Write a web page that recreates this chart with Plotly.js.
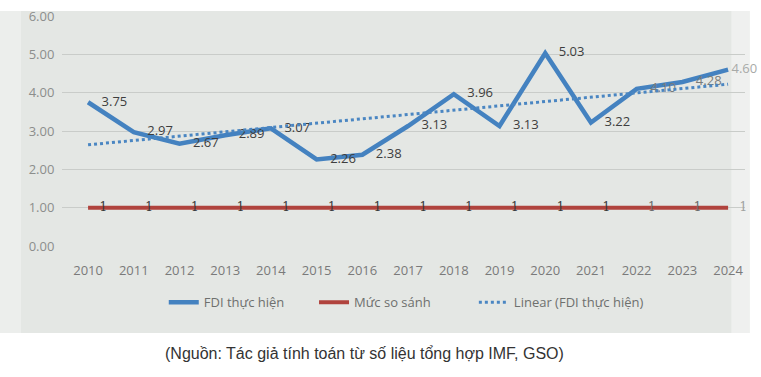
<!DOCTYPE html>
<html>
<head>
<meta charset="utf-8">
<script src="https://cdn.plot.ly/plotly-3.0.1.min.js"></script>
<style>
  html, body { margin: 0; padding: 0; background: #ffffff; }
  #chart { width: 761px; height: 377px; }
</style>
</head>
<body>
<div id="chart"></div>
<script>
// ---- data ----
const years = [2010, 2011, 2012, 2013, 2014, 2015, 2016, 2017, 2018, 2019, 2020, 2021, 2022, 2023, 2024];
const fdiValues = [3.75, 2.97, 2.67, 2.89, 3.07, 2.26, 2.38, 3.13, 3.96, 3.13, 5.03, 3.22, 4.10, 4.28, 4.60];
const baseValues = [1, 1, 1, 1, 1, 1, 1, 1, 1, 1, 1, 1, 1, 1, 1];
const trendYears = [2010, 2024];
const trendValues = [2.64, 4.22];
const yTickVals = [0, 1, 2, 3, 4, 5, 6];
const seriesNames = ['FDI thực hiện', 'Mức so sánh', 'Linear (FDI thực hiện)'];
const caption = '(Nguồn: Tác giả tính toán từ số liệu tổng hợp IMF, GSO)';

const pad = (s, n) => '\u00a0'.repeat(n) + s;
const last = years.length - 1;
// label colours fade toward the right edge like the photographed screen
const fdiLabelColors = fdiValues.map((v, i) => i >= 14 ? '#a8aaa8' : (i >= 12 ? '#7a7c7a' : '#3e3e3e'));
const baseLabelColors = baseValues.map((v, i) => i >= 14 ? '#a0a2a0' : (i >= 12 ? '#6a6a6a' : '#3a3a3a'));

const traces = [
  {
    x: years, y: fdiValues, name: seriesNames[0], type: 'scatter', mode: 'lines+text',
    line: {color: '#4482c0', width: 4.5},
    text: fdiValues.map((v, i) => pad(v.toFixed(2), i === last ? 1 : 4)), textposition: 'middle right',
    textfont: {family: 'Open Sans, DejaVu Sans, sans-serif', size: 13, color: fdiLabelColors},
    cliponaxis: false, hoverinfo: 'skip', legend: 'legend'
  },
  {
    x: years, y: baseValues, name: seriesNames[1], type: 'scatter', mode: 'lines+text',
    line: {color: '#b0433d', width: 4},
    text: baseValues.map(v => pad(String(v), 3)), textposition: 'middle right',
    textfont: {family: 'DejaVu Serif, serif', size: 12, color: baseLabelColors},
    cliponaxis: false, hoverinfo: 'skip', legend: 'legend2'
  },
  {
    x: trendYears, y: trendValues, name: seriesNames[2], type: 'scatter', mode: 'lines',
    line: {color: '#4a86c2', width: 3, dash: 'dot'},
    hoverinfo: 'skip', legend: 'legend3'
  }
];

const legendBase = {
  orientation: 'h', xanchor: 'left', y: -0.245, yanchor: 'middle',
  bgcolor: 'rgba(0,0,0,0)', font: {size: 13, color: '#6e706e'}
};

const layout = {
  width: 761, height: 377,
  margin: {l: 62, r: 16, t: 16, b: 131},
  paper_bgcolor: '#ffffff',
  plot_bgcolor: 'rgba(0,0,0,0)',
  showlegend: true,
  font: {family: 'Open Sans, DejaVu Sans, sans-serif', color: '#777'},
  xaxis: {
    type: 'linear', range: [2009.43, 2024.37],
    tickvals: years, ticktext: years.map(String),
    showgrid: false, zeroline: false, showline: false,
    ticks: 'outside', ticklen: 12, tickcolor: 'rgba(0,0,0,0)',
    tickfont: {size: 13, color: '#7a7a7a'}
  },
  yaxis: {
    range: [0, 6], tickvals: yTickVals, ticktext: yTickVals.map(v => v.toFixed(2)),
    showgrid: true, gridcolor: '#c9ccc9', gridwidth: 1,
    zeroline: false, showline: false,
    ticks: 'outside', ticklen: 4, tickcolor: 'rgba(0,0,0,0)',
    tickfont: {size: 13, color: '#8c8e8c'}
  },
  legend: Object.assign({}, legendBase, {x: 0.149}),
  legend2: Object.assign({}, legendBase, {x: 0.369}),
  legend3: Object.assign({}, legendBase, {x: 0.603}),
  shapes: [
    {type: 'rect', xref: 'paper', yref: 'paper', x0: -0.0908, x1: 1.007, y0: -0.378, y1: 1.0217,
     fillcolor: '#e4e7e4', line: {width: 0}, layer: 'below'},
    {type: 'rect', xref: 'paper', yref: 'paper', x0: -0.0908, x1: -0.06, y0: -0.378, y1: 1.0217,
     fillcolor: 'rgba(255,255,255,0.3)', line: {width: 0}, layer: 'below'},
    {type: 'rect', xref: 'paper', yref: 'paper', x0: 0.98, x1: 1.007, y0: -0.378, y1: 1.0217,
     fillcolor: 'rgba(255,255,255,0.4)', line: {width: 0}, layer: 'below'}
  ],
  annotations: [
    {text: caption, xref: 'paper', yref: 'paper', x: (364 - 62) / 683, y: (246 - 353) / 230,
     xanchor: 'center', yanchor: 'middle', showarrow: false,
     font: {family: 'Liberation Sans, Arial, sans-serif', size: 16, color: '#333333'}}
  ]
};

Plotly.newPlot('chart', traces, layout, {staticPlot: true, displayModeBar: false});
</script>
</body>
</html>
